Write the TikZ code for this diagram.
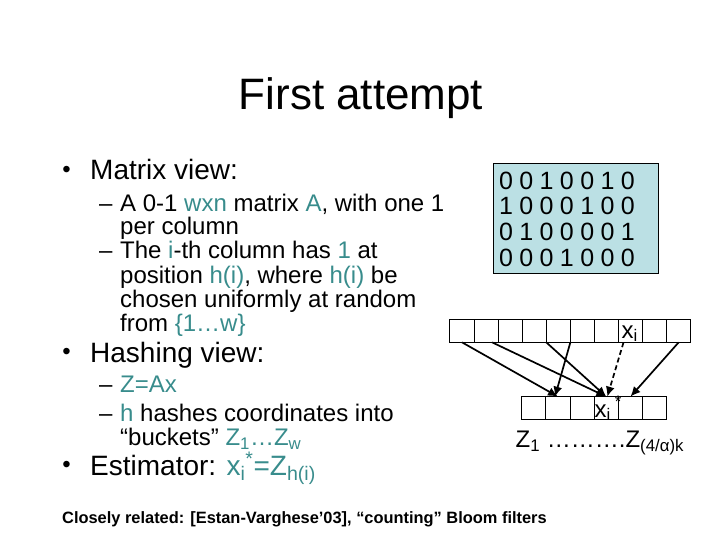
\documentclass[tikz,border=0pt]{standalone}
\usepackage{fontspec}
\setmainfont{Liberation Sans}
\usepackage{xcolor}
\usetikzlibrary{arrows.meta, positioning}

\definecolor{hlteal}{RGB}{56,140,140}
\definecolor{matblue}{RGB}{187,224,228}
\newcommand{\hl}[1]{\textcolor{hlteal}{#1}}

\begin{document}
\begin{tikzpicture}[
    x=1pt, y=-1pt,
    txt/.style    = {anchor=base west, inner sep=0pt},
    title/.style  = {anchor=base, inner sep=0pt, font=\fontsize{44}{48}\selectfont},
    dot/.style    = {inner sep=0pt, font=\fontsize{24}{24}\selectfont},
    lvlone/.style = {txt, font=\fontsize{28}{30}\selectfont},
    lvltwo/.style = {txt, font=\fontsize{24}{24}\selectfont},
    digit/.style  = {inner sep=0pt, font=\fontsize{25}{25}\selectfont},
    cell/.style   = {draw, line width=1pt, minimum width=24.1pt,
                     minimum height=23.3pt, inner sep=0pt, outer sep=0pt},
    lab/.style    = {inner sep=0pt, font=\fontsize{24}{24}\selectfont},
    arr/.style    = {-{Latex[length=10pt,width=9pt]}, line width=1.7pt},
    note/.style   = {txt, font=\fontsize{16.4}{18}\selectfont\bfseries}
]
\useasboundingbox (0,0) rectangle (720,540);

%% Title
\node[title] (ttl) at (361,110) {First attempt};

%% Matrix view
\node[dot] (bul1) at (66.5,171.5) {•};
\node[lvlone] (mview) at (90,180) {Matrix view:};
\node[lvltwo] (dsh1) at (99,211.5) {–};
\node[lvltwo] (m1) at (120,211.5) {A 0-1 \hl{wxn} matrix \hl{A}, with one 1};
\node[lvltwo] (m2) at (120,234) {per column};
\node[lvltwo] (dsh2) at (99,258.5) {–};
\node[lvltwo] (m3) at (120,258.5) {The \hl{i}-th column has \hl{1} at};
\node[lvltwo] (m4) at (120,283) {position \hl{h(i)}, where \hl{h(i)} be};
\node[lvltwo] (m5) at (120,307.5) {chosen uniformly at random};
\node[lvltwo] (m6) at (120,331.5) {from \hl{\{1…w\}}};

%% Hashing view
\node[dot] (bul2) at (66.5,354) {•};
\node[lvlone] (hview) at (90,362.5) {Hashing view:};
\node[lvltwo] (dsh3) at (99,392.5) {–};
\node[lvltwo] (h1) at (120,392.5) {\hl{Z=Ax}};
\node[lvltwo] (dsh4) at (99,421.5) {–};
\node[lvltwo] (h2) at (120,421.5) {\hl{h} hashes coordinates into};
\node[lvltwo] (h3) at (120,445.5) {“buckets” \hl{Z\textsubscript{1}…Z\textsubscript{w}}};

%% Estimator
\node[dot] (bul3) at (66.5,466.5) {•};
\node[lvlone] (est) at (90,475)
    {Estimator: \hl{x\textsubscript{i}\textsuperscript{*}=Z\textsubscript{h(i)}}};

\node[note] (rel) at (62,523.5)
    {Closely related: [Estan-Varghese’03], “counting” Bloom filters};

%% Matrix A
\node[draw, line width=0.8pt, fill=matblue, minimum width=165pt,
      minimum height=110pt, inner sep=0pt] (mat) at (575.5,218) {};
\foreach \row [count=\r] in {{0,0,1,0,0,1,0},{1,0,0,0,1,0,0},
                             {0,1,0,0,0,0,1},{0,0,0,1,0,0,0}}
  \foreach \d [count=\c] in \row
    \node[digit] (d\r\c) at ({506+20.3*(\c-1)},{180.5+25.8*(\r-1)}) {\d};

%% Vector x and buckets Z
\foreach \i in {1,...,10}
  \node[cell] (t\i) at ({450+24.07*(\i-0.5)},330.7) {};
\foreach \i in {1,...,6}
  \node[cell] (b\i) at ({521.7+24.17*(\i-0.5)},408.3) {};

\node[lab, anchor=base west] (xi) at (621.5,338) {x\textsubscript{i}};
\node[lab, anchor=base west] (xs) at (594.5,417)
    {x\textsubscript{i}\,\textsuperscript{*}};
\node[lab, anchor=base west] (zz) at (515.5,447.5)
    {Z\textsubscript{1} ……….Z\textsubscript{(4/α)k}};

%% Hash arrows
\draw[arr] (t1.south) -- (b2.north);
\draw[arr] ([xshift=6pt]t2.south) -- (b4.north);
\draw[arr] (t5.south west) -- (b4.north);
\draw[arr] (t5.south east) -- ([xshift=-3pt]b2.north);
\draw[arr, dashed, dash pattern=on 5pt off 3pt]
    ([xshift=-7pt]t8.south) -- ([xshift=1pt]b4.north);
\draw[arr] (t10.south) -- (b5.north);

\end{tikzpicture}
\end{document}
